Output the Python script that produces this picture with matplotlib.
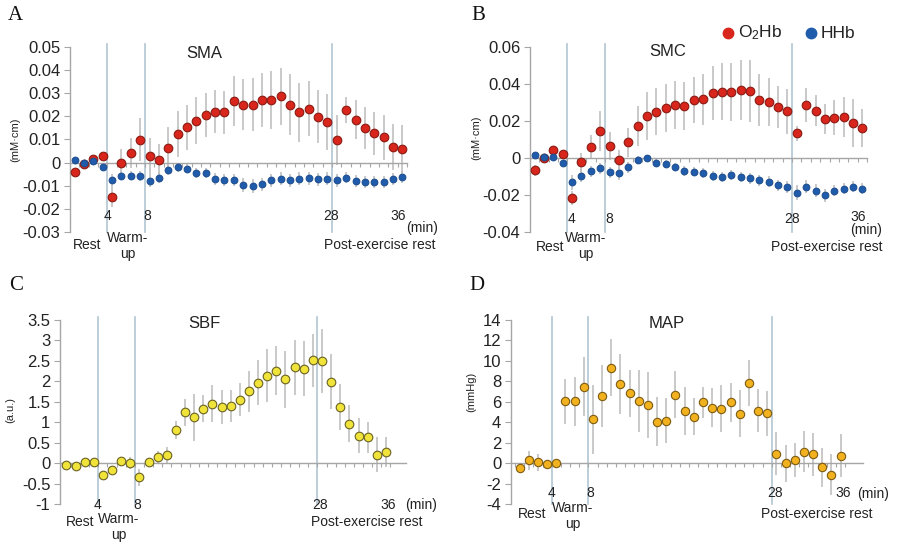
import numpy as np
import matplotlib
matplotlib.use("Agg")
import matplotlib.pyplot as plt

plt.rcParams['font.family'] = ['Liberation Sans', 'DejaVu Sans']
plt.rcParams['mathtext.default'] = 'regular'

W, H = 898, 543

# ---------------- data ----------------
minutes = np.arange(36) + 0.5

sma_o2hb = [-0.0039, -0.0006, 0.0017, 0.0026, -0.0147, -0.0003, 0.0040, 0.0098, 0.0026, 0.0009,
            0.0062, 0.0124, 0.0152, 0.0181, 0.0205, 0.0220, 0.0216, 0.0267, 0.0249, 0.0250,
            0.0270, 0.0270, 0.0285, 0.0250, 0.0216, 0.0233, 0.0198, 0.0175, 0.0098, 0.0226,
            0.0185, 0.0150, 0.0126, 0.0109, 0.0066, 0.0059]
sma_o2hb_err = [0.0010, 0.0010, 0.0010, 0.0012, 0.0045, 0.0060, 0.0065, 0.0093, 0.0080, 0.0070,
                0.0090, 0.0100, 0.0097, 0.0100, 0.0095, 0.0093, 0.0092, 0.0108, 0.0110, 0.0113,
                0.0118, 0.0124, 0.0122, 0.0130, 0.0126, 0.0117, 0.0113, 0.0122, 0.0108, 0.0055,
                0.0083, 0.0090, 0.0093, 0.0098, 0.0100, 0.0104]
sma_hhb = [0.0010, 0.0000, 0.0007, -0.0020, -0.0076, -0.0057, -0.0057, -0.0057, -0.0079, -0.0065,
           -0.0034, -0.0020, -0.0027, -0.0046, -0.0047, -0.0070, -0.0076, -0.0075, -0.0096, -0.0100,
           -0.0093, -0.0076, -0.0070, -0.0076, -0.0070, -0.0068, -0.0072, -0.0070, -0.0076, -0.0065,
           -0.0079, -0.0085, -0.0085, -0.0085, -0.0072, -0.0063]
sma_hhb_err = [0.0010, 0.0010, 0.0010, 0.0012, 0.0025, 0.0020, 0.0020, 0.0022, 0.0025, 0.0022,
               0.0022, 0.0020, 0.0020, 0.0022, 0.0022, 0.0025, 0.0025, 0.0025, 0.0030, 0.0030,
               0.0028, 0.0028, 0.0028, 0.0028, 0.0028, 0.0028, 0.0028, 0.0028, 0.0028, 0.0025,
               0.0025, 0.0025, 0.0025, 0.0025, 0.0025, 0.0025]

smc_o2hb = [-0.0067, 0.0000, 0.0041, 0.0020, -0.0218, -0.0025, 0.0058, 0.0144, 0.0063, -0.0011,
            0.0083, 0.0171, 0.0225, 0.0249, 0.0270, 0.0286, 0.0279, 0.0312, 0.0315, 0.0350,
            0.0357, 0.0355, 0.0366, 0.0360, 0.0312, 0.0301, 0.0274, 0.0252, 0.0132, 0.0285,
            0.0254, 0.0209, 0.0216, 0.0218, 0.0187, 0.0162]
smc_o2hb_err = [0.0030, 0.0010, 0.0020, 0.0020, 0.0036, 0.0050, 0.0063, 0.0110, 0.0077, 0.0050,
                0.0077, 0.0110, 0.0130, 0.0126, 0.0130, 0.0130, 0.0128, 0.0124, 0.0140, 0.0146,
                0.0153, 0.0157, 0.0164, 0.0167, 0.0138, 0.0129, 0.0114, 0.0122, 0.0042, 0.0090,
                0.0084, 0.0081, 0.0095, 0.0108, 0.0128, 0.0102]
smc_hhb = [0.0013, 0.0002, 0.0005, -0.0030, -0.0133, -0.0097, -0.0074, -0.0058, -0.0079, -0.0083,
           -0.0052, -0.0013, -0.0004, -0.0027, -0.0034, -0.0052, -0.0072, -0.0076, -0.0083, -0.0099,
           -0.0106, -0.0095, -0.0103, -0.0112, -0.0121, -0.0130, -0.0148, -0.0160, -0.0189, -0.0157,
           -0.0178, -0.0202, -0.0178, -0.0168, -0.0157, -0.0168]
smc_hhb_err = [0.0010, 0.0010, 0.0012, 0.0015, 0.0040, 0.0035, 0.0030, 0.0030, 0.0030, 0.0035,
               0.0030, 0.0020, 0.0020, 0.0020, 0.0020, 0.0022, 0.0025, 0.0025, 0.0025, 0.0028,
               0.0028, 0.0028, 0.0028, 0.0030, 0.0030, 0.0030, 0.0030, 0.0032, 0.0040, 0.0035,
               0.0035, 0.0035, 0.0030, 0.0030, 0.0030, 0.0030]

sbf = [-0.04, -0.08, 0.02, 0.02, -0.30, -0.18, 0.04, 0.00, -0.35, 0.02,
       0.14, 0.20, 0.81, 1.24, 1.12, 1.33, 1.45, 1.37, 1.40, 1.55,
       1.76, 1.96, 2.14, 2.26, 2.05, 2.34, 2.31, 2.51, 2.49, 1.99,
       1.37, 0.96, 0.67, 0.63, 0.21, 0.27]
sbf_err = [0.05, 0.05, 0.05, 0.05, 0.08, 0.10, 0.10, 0.15, 0.20, 0.10,
           0.15, 0.20, 0.22, 0.33, 0.58, 0.33, 0.45, 0.42, 0.40, 0.40,
           0.50, 0.55, 0.65, 0.60, 0.70, 0.67, 0.68, 0.65, 0.78, 0.67,
           0.57, 0.45, 0.43, 0.38, 0.43, 0.37]

map_vals = [-0.46, 0.26, 0.07, -0.13, -0.03, 6.06, 6.06, 7.49, 4.27, 6.58,
            9.32, 7.75, 6.81, 6.06, 5.67, 4.04, 4.14, 6.71, 5.08, 4.53,
            5.96, 5.41, 5.34, 5.93, 4.82, 7.88, 5.11, 4.89, 0.94, 0.00,
            0.29, 1.11, 0.85, -0.39, -1.14, 0.72]
map_err = [0.4, 0.9, 0.8, 0.3, 0.4, 2.2, 2.4, 2.9, 3.4, 3.0,
           2.8, 2.9, 2.3, 3.0, 3.2, 2.4, 2.2, 2.3, 2.35, 1.8,
           1.5, 1.9, 2.3, 1.9, 2.3, 2.25, 2.1, 2.2, 2.1, 1.8,
           1.65, 2.0, 2.1, 1.9, 2.0, 2.1]

phase_lines = [4, 8, 28]
phase_tick_labels = ['4', '8', '28', '36']

# ---------------- helpers ----------------
fig = plt.figure(figsize=(W / 100, H / 100), dpi=100)


def px_axes(L, R, T, B):
    return fig.add_axes([L / W, 1 - B / H, (R - L) / W, (B - T) / H])


def ftext(x, y, s, **kw):
    kw.setdefault('ha', 'center')
    kw.setdefault('va', 'center')
    return fig.text(x / W, 1 - y / H, s, **kw)


SPINE = '#a6a6a6'
VLINE = '#b3c6d3'
ERR = '#c0c0c0'
TICKFS = 12


def style_axes(ax, xlim, ylim, yticks, yfmt):
    ax.set_xlim(*xlim)
    ax.set_ylim(*ylim)
    for s in ['top', 'right']:
        ax.spines[s].set_visible(False)
    ax.spines['left'].set_color(SPINE)
    ax.spines['left'].set_linewidth(1.0)
    ax.spines['bottom'].set_position(('data', 0))
    ax.spines['bottom'].set_color(SPINE)
    ax.spines['bottom'].set_linewidth(1.0)
    ax.set_xticks(np.arange(0, 37))
    ax.set_xticklabels([])
    ax.tick_params(axis='x', direction='out', length=3, width=0.8, color=SPINE)
    ax.set_yticks(yticks)
    ax.set_yticklabels([yfmt(v) for v in yticks], fontsize=TICKFS, color='#222222')
    ax.tick_params(axis='y', direction='out', length=4, width=0.8, color=SPINE, pad=3)
    for v in phase_lines:
        ax.axvline(v, ymin=0, ymax=1.015, color=VLINE, lw=1.2, clip_on=False, zorder=1)
    ax.patch.set_alpha(0)


def series(ax, y, err, face, edge, ms):
    ax.errorbar(minutes, y, yerr=err, fmt='none', ecolor=ERR, elinewidth=1.2, capsize=0, zorder=2)
    ax.plot(minutes, y, 'o', ms=ms, mfc=face, mec=edge, mew=0.8, ls='none', zorder=3)


def fmt_dec(v):
    if abs(v) < 1e-12:
        return '0'
    return ('%.2f' % v).rstrip('0').rstrip('.')


def fmt_int(v):
    return '%d' % round(v)


RED, RED_E = '#d9261c', '#8a1a12'
BLUE, BLUE_E = '#1f5cab', '#1f4f90'
YEL, YEL_E = '#f0e43a', '#6a6222'
ORA, ORA_E = '#f2b11e', '#7d5c12'

# ---------------- Panel A ----------------
axA = px_axes(70, 407, 46.7, 232)
style_axes(axA, (0, 36), (-0.03, 0.05), np.arange(-0.03, 0.051, 0.01), lambda v: fmt_dec(round(v, 2)))
series(axA, sma_o2hb, sma_o2hb_err, RED, RED_E, 6.2)
series(axA, sma_hhb, sma_hhb_err, BLUE, BLUE_E, 4.8)

# ---------------- Panel B ----------------
axB = px_axes(530, 867, 46.7, 231.7)
style_axes(axB, (0, 36), (-0.04, 0.06), np.arange(-0.04, 0.061, 0.02), lambda v: fmt_dec(round(v, 2)))
series(axB, smc_o2hb, smc_o2hb_err, RED, RED_E, 6.2)
series(axB, smc_hhb, smc_hhb_err, BLUE, BLUE_E, 4.8)

# ---------------- Panel C ----------------
axC = px_axes(60, 406, 320, 504)
style_axes(axC, (-0.2, 37.7), (-1, 3.5), np.arange(-1, 3.51, 0.5), lambda v: fmt_dec(round(v, 1)))
series(axC, sbf, sbf_err, YEL, YEL_E, 6.2)

# ---------------- Panel D ----------------
axD = px_axes(511, 863, 320, 504)
style_axes(axD, (-0.44, 37.95), (-4, 14), np.arange(-4, 14.1, 2), fmt_int)
series(axD, map_vals, map_err, ORA, ORA_E, 6.0)

# ---------------- annotations ----------------
LBL = dict(fontsize=10, color='#222222')
PANEL = dict(fontsize=15, family=['Liberation Serif', 'DejaVu Serif'], color='#111111')
TITLE = dict(fontsize=12, color='#222222')
YLAB = dict(rotation=90, fontsize=8, color='#222222')

# Panel letters
ftext(15, 16, 'A', **PANEL)
ftext(478, 16, 'B', **PANEL)
ftext(16, 286, 'C', **PANEL)
ftext(477, 286, 'D', **PANEL)

# Titles
ftext(204, 53, 'SMA', **TITLE)
ftext(668, 52, 'SMC', **TITLE)
ftext(204, 323, 'SBF', **TITLE)
ftext(667, 323, 'MAP', **TITLE)

# y labels
ftext(15, 140, '(mM·cm)', **YLAB)
ftext(476, 138, '(mM·cm)', **YLAB)
ftext(10, 410, '(a.u.)', **YLAB)
ftext(471, 392, '(mmHg)', **YLAB)

# Panel A x labels
for (x, y), s in zip([(107, 216), (147, 216), (331, 216), (398, 216)], phase_tick_labels):
    ftext(x, y, s, **LBL)
ftext(422, 228, '(min)', **LBL)
ftext(87, 245, 'Rest', **LBL)
ftext(128, 246, 'Warm-\nup', linespacing=1.1, **LBL)
ftext(380, 245, 'Post-exercise rest', **LBL)

# Panel B x labels
for (x, y), s in zip([(571, 219), (609, 219), (792, 219), (858, 217)], phase_tick_labels):
    ftext(x, y, s, **LBL)
ftext(866, 230, '(min)', **LBL)
ftext(550, 247, 'Rest', **LBL)
ftext(586, 246, 'Warm-\nup', linespacing=1.1, **LBL)
ftext(827, 247, 'Post-exercise rest', **LBL)

# Panel C x labels
for (x, y), s in zip([(97, 505), (137, 505), (320, 505), (388, 505)], phase_tick_labels):
    ftext(x, y, s, **LBL)
ftext(421, 505, '(min)', **LBL)
ftext(80, 522, 'Rest', **LBL)
ftext(119, 527, 'Warm-\nup', linespacing=1.1, **LBL)
ftext(367, 522, 'Post-exercise rest', **LBL)

# Panel D x labels
for (x, y), s in zip([(552, 493), (590, 493), (775, 493), (843, 493)], phase_tick_labels):
    ftext(x, y, s, **LBL)
ftext(873, 494, '(min)', **LBL)
ftext(532, 514, 'Rest', **LBL)
ftext(573, 516, 'Warm-\nup', linespacing=1.1, **LBL)
ftext(817, 514, 'Post-exercise rest', **LBL)

# Legend (panel B)
fig.lines.append(matplotlib.lines.Line2D([728 / W], [1 - 33 / H], marker='o', ms=7.5,
                                         mfc=RED, mec=RED, transform=fig.transFigure))
ftext(738, 33, 'O$_2$Hb', ha='left', fontsize=12.5, color='#222222')
fig.lines.append(matplotlib.lines.Line2D([811 / W], [1 - 33 / H], marker='o', ms=7.5,
                                         mfc=BLUE, mec=BLUE, transform=fig.transFigure))
ftext(821, 33, 'HHb', ha='left', fontsize=12.5, color='#222222')

fig.savefig('out.png', dpi=100)
